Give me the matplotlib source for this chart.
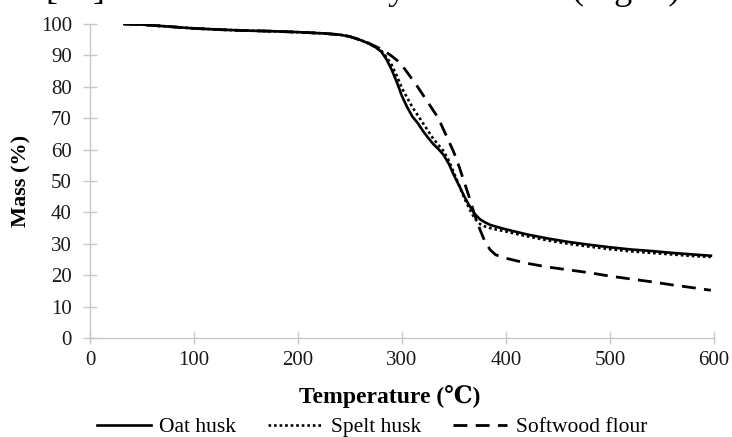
import matplotlib
matplotlib.use("Agg")
import matplotlib.pyplot as plt

plt.rcParams['font.family'] = ['Liberation Serif', 'DejaVu Serif']

temps = [33, 50, 75, 100, 125, 150, 175, 200, 225, 240, 250, 260, 268, 275, 280,
         285, 290, 295, 300, 305, 310, 315, 320, 325, 330, 335, 340, 345, 350, 355,
         360, 365, 370, 375, 380, 385, 390, 400, 420, 440, 460, 480, 500, 520, 540,
         560, 580, 597]

oat_husk = [100.0, 99.8, 99.2, 98.6, 98.2, 97.9, 97.7, 97.4, 97.0, 96.6, 96.0, 94.9, 93.8, 92.5, 91.2,
            88.8, 85.5, 81.5, 77.0, 73.5, 70.5, 68.5, 66.0, 63.8, 61.8, 60.2, 58.3, 55.5, 51.8, 48.5,
            45.0, 42.0, 39.5, 37.8, 36.8, 36.0, 35.5, 34.6, 33.0, 31.7, 30.6, 29.7, 28.9, 28.2, 27.7,
            27.1, 26.6, 26.2]

spelt_husk = [100.0, 99.8, 99.2, 98.6, 98.2, 97.9, 97.7, 97.4, 97.0, 96.6, 96.0, 94.9, 93.8, 92.5, 91.5,
              89.5, 87.0, 83.5, 79.5, 76.5, 73.5, 71.0, 68.5, 66.0, 63.5, 61.5, 59.5, 56.5, 52.5, 48.5,
              44.5, 41.0, 38.0, 36.3, 35.5, 35.0, 34.6, 33.9, 32.4, 31.1, 30.0, 29.1, 28.3, 27.6, 27.1,
              26.6, 26.1, 25.8]

softwood_flour = [100.0, 99.8, 99.2, 98.6, 98.2, 97.9, 97.7, 97.4, 97.0, 96.6, 96.0, 94.9, 93.9, 92.8, 92.0,
                  91.0, 89.8, 88.5, 86.8, 84.6, 82.3, 80.0, 77.5, 75.0, 72.5, 70.0, 66.3, 62.7, 59.0, 54.5,
                  49.5, 44.5, 39.0, 34.5, 30.5, 28.0, 26.5, 25.4, 23.8, 22.6, 21.7, 20.8, 19.7, 18.8, 17.9,
                  16.9, 16.0, 15.2]

series_names = ["Oat husk", "Spelt husk", "Softwood flour"]
x_ticks = [0, 100, 200, 300, 400, 500, 600]
y_ticks = [0, 10, 20, 30, 40, 50, 60, 70, 80, 90, 100]

W, H = 732, 437
fig = plt.figure(figsize=(W / 100, H / 100), dpi=100)
ax = fig.add_axes([90 / W, 1 - 338 / H, 624 / W, 314 / H])

ax.plot(temps, oat_husk, color='black', lw=1.9, ls='-', label=series_names[0])
ax.plot(temps, spelt_husk, color='black', lw=1.9, ls=(0, (1, 1.1)), label=series_names[1])
ax.plot(temps, softwood_flour, color='black', lw=2.0, ls=(0, (5, 3)), label=series_names[2])

ax.set_xlim(0, 600)
ax.set_ylim(0, 100)
ax.set_xticks(x_ticks)
ax.set_yticks(y_ticks)
ax.set_xticklabels([str(v) for v in x_ticks])
ax.set_yticklabels([str(v) for v in y_ticks])

grey = '#c8c8c8'
for s in ['top', 'right']:
    ax.spines[s].set_visible(False)
for s in ['left', 'bottom']:
    ax.spines[s].set_color(grey)
    ax.spines[s].set_linewidth(1.0)
ax.tick_params(axis='y', direction='inout', length=10, width=1.0, color=grey,
               labelsize=15, labelcolor='#1a1a1a', pad=8)
ax.tick_params(axis='x', direction='inout', length=9, width=1.0, color=grey,
               labelsize=15, labelcolor='#1a1a1a', pad=5)

ax.set_xlabel("Temperature (℃)", fontsize=17, fontweight='bold')
ax.xaxis.label.set_va('center')
ax.xaxis.set_label_coords((390 - 90) / 624, (338 - 397) / 314)
ax.set_ylabel("Mass (%)", fontsize=16, fontweight='bold')
ax.yaxis.label.set_va('center')
ax.yaxis.set_label_coords((21 - 90) / 624, 0.5)

fig.legend(loc='center', bbox_to_anchor=(372 / W, 1 - 427 / H), ncol=3, frameon=False,
           fontsize=15.5, handlelength=2.5, handletextpad=0.4, columnspacing=1.5,
           borderaxespad=0, borderpad=0)

# line of running text from the page above the chart, cut off by the crop
top_y = 1 + 1 / H
fig.text(45 / W, top_y, "[13]", fontsize=26, va='baseline', ha='left')
fig.text(370 / W, top_y, "by", fontsize=26, va='baseline', ha='left')
fig.text(572 / W, top_y, "(Fig. 2)", fontsize=26, va='baseline', ha='left')

fig.savefig("out.png", dpi=100)
